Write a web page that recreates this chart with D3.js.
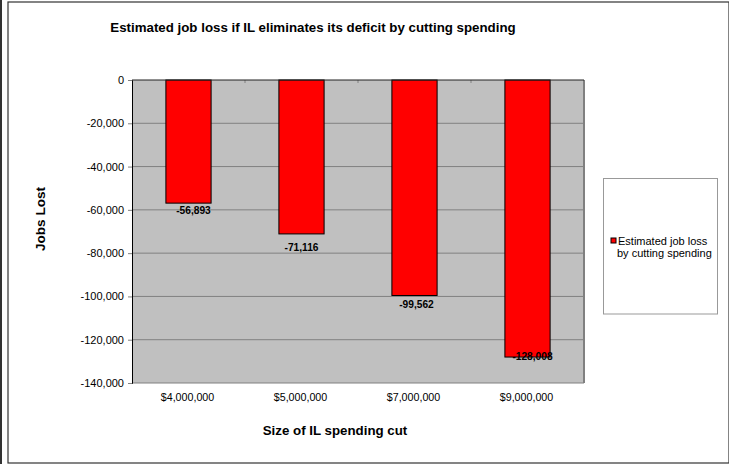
<!DOCTYPE html>
<html><head><meta charset="utf-8">
<script src="https://cdn.jsdelivr.net/npm/d3@7"></script>
<style>body{margin:0;background:#fff}svg{display:block}text{font-family:Arial,"Liberation Sans",sans-serif}</style>
</head><body>
<script>
const categories = ["$4,000,000", "$5,000,000", "$7,000,000", "$9,000,000"];
const jobsLost = [-56893, -71116, -99562, -128008];
const seriesName = ["Estimated job loss", "by cutting spending"];
const yTicks = [0, -20000, -40000, -60000, -80000, -100000, -120000, -140000];
const labelNudge = [[5, 7], [0, 13], [2, 9], [5, -1]];

const W = 729, H = 464;
const svg = d3.select("body").append("svg").attr("width", W).attr("height", H);
svg.append("rect").attr("x", 0).attr("y", 0).attr("width", W).attr("height", H).attr("fill", "#fff");
// outer frame
svg.append("line").attr("x1", 1).attr("x2", 1).attr("y1", 0).attr("y2", 464).attr("stroke", "#333").attr("stroke-width", 2);
svg.append("rect").attr("x", 8).attr("y", 2).attr("width", 721).attr("height", 461)
  .attr("fill", "none").attr("stroke", "#333").attr("stroke-width", 1.2);

const m = {l: 132, r: 584, t: 80, b: 383};
const x = d3.scaleBand().domain(categories).range([m.l, m.r]).paddingInner(0.6).paddingOuter(0.3);
const y = d3.scaleLinear().domain([0, -140000]).range([m.t, m.b]);

svg.append("rect").attr("x", m.l).attr("y", m.t).attr("width", m.r - m.l).attr("height", m.b - m.t).attr("fill", "#C0C0C0");
// gridlines
svg.append("g").selectAll("line").data(yTicks.slice(1)).join("line")
  .attr("x1", m.l).attr("x2", m.r).attr("y1", d => y(d)).attr("y2", d => y(d))
  .attr("stroke", "#808080").attr("stroke-width", 1);
// right border
svg.append("line").attr("x1", m.r).attr("x2", m.r).attr("y1", m.t).attr("y2", m.b).attr("stroke", "#808080").attr("stroke-width", 2);

// bars
svg.append("g").selectAll("rect").data(jobsLost).join("rect")
  .attr("x", (d, i) => x(categories[i])).attr("width", x.bandwidth())
  .attr("y", d => y(0)).attr("height", d => y(d) - y(0))
  .attr("fill", "#FF0000").attr("stroke", "#000").attr("stroke-width", 1);

// y axis
const yAxis = d3.axisLeft(y).tickValues(yTicks).tickSize(4).tickFormat(d3.format(","));
const ga = svg.append("g").attr("transform", `translate(${m.l},0)`).call(yAxis);
ga.select(".domain").attr("stroke", "#000");
ga.selectAll(".tick line").attr("stroke", "#808080");
ga.selectAll("text").attr("font-size", "11px").attr("fill", "#000").attr("x", -8)
  .text(d => d3.format(",")(d).replace("−", "-"));

// x axis (at zero, top)
const xb = d3.scaleLinear().domain([0, categories.length]).range([m.l, m.r]);
svg.append("g").selectAll("line").data(d3.range(1, categories.length)).join("line")
  .attr("x1", d => xb(d)).attr("x2", d => xb(d)).attr("y1", m.t).attr("y2", m.t + 3)
  .attr("stroke", "#808080");
svg.append("line").attr("x1", m.l).attr("x2", m.r).attr("y1", m.t).attr("y2", m.t).attr("stroke", "#222").attr("stroke-width", 1.2);
// category labels at bottom
svg.append("g").selectAll("text").data(categories).join("text")
  .attr("x", d => x(d) + x.bandwidth() / 2 - 1).attr("y", 400.5)
  .attr("text-anchor", "middle").attr("font-size", "10.7px").text(d => d);

// data labels
svg.append("g").selectAll("text").data(jobsLost).join("text")
  .attr("x", (d, i) => x(categories[i]) + x.bandwidth() / 2 + labelNudge[i][0])
  .attr("y", (d, i) => y(d) + labelNudge[i][1] + 4)
  .attr("text-anchor", "middle").attr("font-size", "10.2px").attr("font-weight", "bold")
  .text(d => d3.format(",")(d).replace("−", "-"));

// titles
svg.append("text").attr("x", 313).attr("y", 32).attr("text-anchor", "middle")
  .attr("font-size", "13.3px").attr("font-weight", "bold").text("Estimated job loss if IL eliminates its deficit by cutting spending");
svg.append("text").attr("x", 335).attr("y", 435).attr("text-anchor", "middle")
  .attr("font-size", "13.3px").attr("font-weight", "bold").text("Size of IL spending cut");
svg.append("text").attr("transform", "translate(45,219) rotate(-90)").attr("text-anchor", "middle")
  .attr("font-size", "13.6px").attr("font-weight", "bold").text("Jobs Lost");

// legend
const lg = svg.append("g");
lg.append("rect").attr("x", 603.5).attr("y", 178.5).attr("width", 114).attr("height", 135.5)
  .attr("fill", "#fff").attr("stroke", "#999");
lg.append("rect").attr("x", 611).attr("y", 238).attr("width", 5).attr("height", 5)
  .attr("fill", "#FF0000").attr("stroke", "#000");
lg.selectAll("text.l").data(seriesName).join("text").attr("class", "l")
  .attr("x", (d, i) => i === 0 ? 618 : 617).attr("y", (d, i) => 244.5 + i * 12.5)
  .attr("font-size", "11px").text(d => d);
</script>
</body></html>
